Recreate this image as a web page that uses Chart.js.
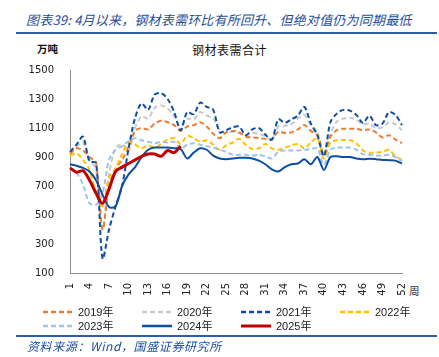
<!DOCTYPE html>
<html><head><meta charset="utf-8">
<script src="https://cdn.jsdelivr.net/npm/chart.js@4"></script>
<style>
body{margin:0;width:439px;height:357px;position:relative;background:#fff;overflow:hidden;font-family:"Noto Sans CJK SC",sans-serif}
.t{position:absolute;white-space:nowrap}
.bar{position:absolute;left:16px;width:421px;height:2px;background:#2E5DA8}
#chartWrap{position:absolute;left:0;top:0;width:439px;height:357px}
.lg{position:absolute;height:14px;line-height:14px;font-size:11px;font-family:"Liberation Sans","Noto Sans CJK SC",sans-serif;color:#222;white-space:nowrap}
.lg svg{position:absolute;left:0;top:5px}
.lg span{position:absolute;left:35px;top:0}
</style></head><body>
<div class="t" style="left:26px;top:11px;font-size:13px;line-height:18px;color:#1F4E9A;font-style:italic;letter-spacing:0.2px">图表39: 4月以来，钢材表需环比有所回升、但绝对值仍为同期最低</div>
<div class="bar" style="top:32px"></div>
<div class="t" style="left:37px;top:42px;font-size:10.5px;line-height:14px;font-weight:bold;color:#111">万吨</div>
<div class="t" style="left:192px;top:43px;font-size:12px;line-height:14px;letter-spacing:0.5px;color:#111">钢材表需合计</div>
<div class="t" style="left:409px;top:284px;font-size:10.5px;line-height:14px;color:#333">周</div>
<div id="chartWrap"><canvas id="c" width="439" height="357"></canvas></div>
<div id="legend"></div>
<div class="bar" style="top:335px"></div>
<div class="t" style="left:27px;top:338px;font-size:12px;line-height:16px;color:#1F4E9A;font-style:italic;letter-spacing:0.6px">资料来源：Wind，国盛证券研究所</div>
<script>
const weeks = Array.from({length:52},(_,i)=>String(i+1));
const yTicks = [100,300,500,700,900,1100,1300,1500];
const seriesNames = ["2019年","2020年","2021年","2022年","2023年","2024年","2025年"];
const y2019 = [920,960,945,900,860,400,700,820,880,970,1080,1100,1090,1130,1150,1140,1120,1080,1110,1120,1140,1110,1060,1030,1070,1080,1070,1040,1035,1030,1025,1020,1075,1065,1070,1090,1120,1080,1050,915,1040,1085,1095,1095,1095,1085,1090,1070,1035,1050,1020,995];
const y2020 = [930,970,1000,880,820,400,780,960,990,940,1100,1180,1165,1240,1255,1235,1180,1110,1165,1160,1210,1185,1165,1085,1065,1075,1065,1050,1065,1060,1045,1020,1110,1115,1125,1165,1190,1120,1075,915,1060,1145,1165,1170,1155,1125,1130,1100,1105,1140,1125,1085];
const y2021 = [935,985,1040,870,860,200,400,560,700,960,1170,1270,1225,1330,1340,1300,1210,1085,1210,1195,1275,1245,1225,1070,1085,1105,1110,1050,1090,1100,1055,1020,1160,1135,1160,1185,1245,1130,1050,905,1140,1200,1225,1220,1190,1135,1185,1120,1130,1210,1190,1120];
const y2022 = [910,925,880,810,650,560,760,820,920,1000,985,960,980,965,990,1020,1030,990,1045,1030,1005,1015,985,950,980,1000,1025,985,955,960,990,960,950,965,980,990,960,1000,1030,890,1000,1015,1018,1015,995,945,930,930,935,950,905,880];
const y2023 = [830,790,710,580,570,650,880,950,975,1010,1030,1015,1005,995,1005,1000,1005,955,985,995,985,975,965,950,935,915,915,915,910,915,905,890,935,945,945,945,950,955,960,845,950,965,965,965,950,920,915,910,910,915,900,870];
const y2024 = [850,840,825,800,740,640,555,560,700,780,830,900,950,965,965,965,960,955,890,930,960,950,910,890,885,890,895,895,890,875,850,815,800,830,850,855,885,850,900,810,900,905,900,900,890,885,888,885,880,878,875,855];
const y2025 = [825,795,805,740,650,580,680,800,830,855,880,905,920,920,905,945,930,975];

const styles = [
  {c:'#ED7D31',dash:[5,3],w:2,o:5},
  {c:'#C9C9C9',dash:[5,3],w:2,o:6},
  {c:'#0B4EA2',dash:[5,3],w:2,o:2},
  {c:'#FFC000',dash:[5,3],w:2,o:4},
  {c:'#9DC3E6',dash:[5,3],w:2,o:3},
  {c:'#0B4EA2',dash:[],w:2,o:1},
  {c:'#C00000',dash:[],w:3,o:0}
];
const allData = [y2019,y2020,y2021,y2022,y2023,y2024,y2025];
const datasets = allData.map((d,i)=>({
  label: seriesNames[i], data: d, borderColor: styles[i].c, backgroundColor: styles[i].c,
  borderWidth: styles[i].w, borderDash: styles[i].dash, pointRadius: 0, tension: 0.3,
  fill:false, order: styles[i].o
}));

new Chart(document.getElementById('c'), {
  type:'line',
  data:{labels:weeks, datasets},
  options:{
    responsive:false, animation:false,
    layout:{padding:{left:0,right:37,top:70,bottom:57}},
    plugins:{legend:{display:false},title:{display:false},tooltip:{enabled:false}},
    scales:{
      x:{
        offset:false,
        grid:{display:true,drawOnChartArea:false,drawTicks:false},
        border:{display:true,color:'#8c8c8c',width:1},
        ticks:{autoSkip:false,maxRotation:90,minRotation:90,padding:10,color:'#222',
          font:{family:'DejaVu Sans',size:10},
          callback:function(v,i){return (i%3===0)?weeks[i]:'';}},
        afterFit:function(s){s.height=27;}
      },
      y:{
        min:100,max:1500,
        grid:{display:true,drawOnChartArea:false,drawTicks:false},
        border:{display:true,color:'#8c8c8c',width:1},
        ticks:{stepSize:200,padding:16,color:'#222',font:{family:'DejaVu Sans',size:10},
          callback:function(v){return yTicks.includes(v)?String(v):'';}},
        afterFit:function(s){s.width=70;}
      }
    }
  }
});

const lgPos = [[43,305],[142,305],[241,305],[340,305],[43,319],[142,319],[241,319]];
const lg = document.getElementById('legend');
seriesNames.forEach((n,i)=>{
  const d = document.createElement('div');
  d.className='lg';
  d.style.left=lgPos[i][0]+'px'; d.style.top=lgPos[i][1]+'px'; d.style.width='95px';
  const st = styles[i];
  const sw = st.dash.length? 2.5 : (i===6?3:2.5);
  d.innerHTML = '<svg width="31" height="4"><line x1="0" y1="2" x2="30" y2="2" stroke="'+st.c+'" stroke-width="'+sw+'"'+(st.dash.length?' stroke-dasharray="5,3"':'')+'/></svg><span>'+n+'</span>';
  lg.appendChild(d);
});
</script>
</body></html>
